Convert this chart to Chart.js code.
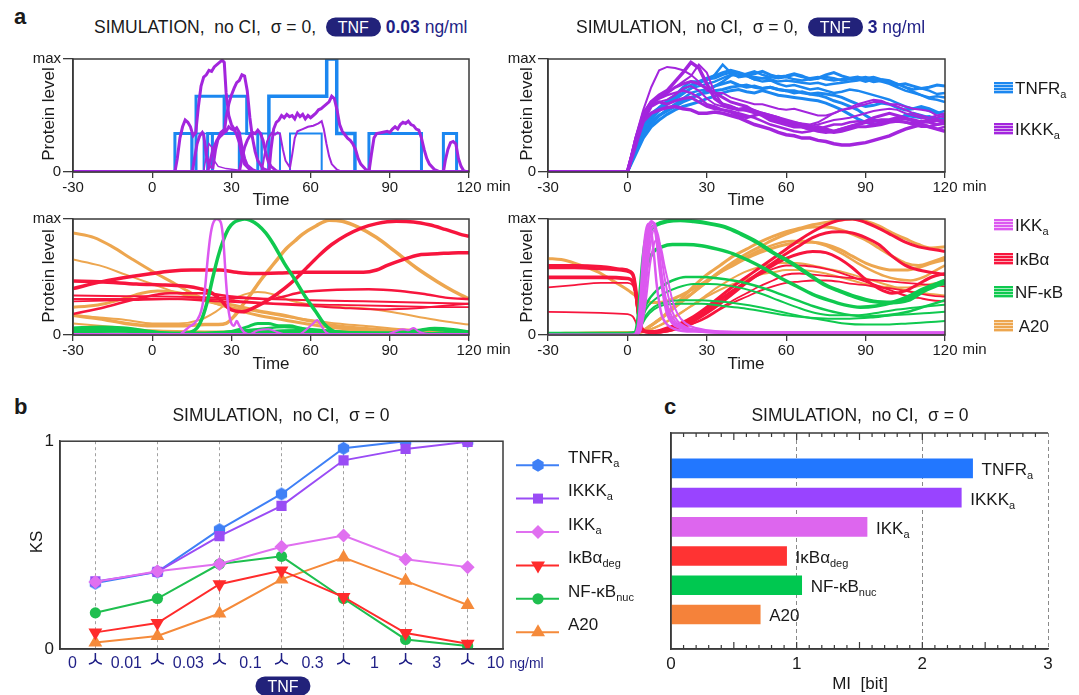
<!DOCTYPE html>
<html>
<head>
<meta charset="utf-8">
<title>TNF signalling – simulation</title>
<script src="https://cdn.jsdelivr.net/npm/chart.js@4.4.1/dist/chart.umd.min.js"></script>
<style>
  html, body { margin: 0; padding: 0; background: #fff; }
  #page { position: relative; width: 1079px; height: 695px; overflow: hidden;
          font-family: "Liberation Sans", Arial, sans-serif; color: #1a1a1a; }
  #page canvas { position: absolute; }
  .t { position: absolute; white-space: pre; line-height: 1; }
  .mid { transform: translate(-50%, -50%); }
  .lft { transform: translateY(-50%); }
  .rot { transform: translate(-50%, -50%) rotate(-90deg); }
  .letter { font-weight: bold; font-size: 22px; }
  .title { font-size: 17.5px; }
  .axis { font-size: 17px; }
  .pill { display: inline-block; background: #22227a; color: #fff; border-radius: 10px;
          padding: 2px 12px 1px; font-size: 16px; }
  .navy { color: #1f1f86; }
  .leg { font-size: 17px; }
  .sw { position: absolute; width: 19px; height: 12px; transform: translateY(-50%); }
  sub { font-size: 11px; vertical-align: -4px; line-height: 0; }
</style>
</head>
<body>
<div id="page">
  <canvas id="cTL"></canvas>
  <canvas id="cTR"></canvas>
  <canvas id="cBL"></canvas>
  <canvas id="cBR"></canvas>
  <canvas id="cKS"></canvas>
  <canvas id="cMI"></canvas>

  <!-- panel a -->
  <div class="t letter lft" style="left:14px;top:17px">a</div>
  <div class="t title lft" style="left:94px;top:27px">SIMULATION,  no CI,  σ = 0,  <span class="pill">TNF</span> <b class="navy">0.03</b><span class="navy"> ng/ml</span></div>
  <div class="t title lft" style="left:576px;top:27px">SIMULATION,  no CI,  σ = 0,  <span class="pill">TNF</span> <b class="navy">3</b><span class="navy"> ng/ml</span></div>
  <div class="t axis rot" style="left:48px;top:114px">Protein level</div>
  <div class="t axis rot" style="left:48px;top:276px">Protein level</div>
  <div class="t axis rot" style="left:526px;top:114px">Protein level</div>
  <div class="t axis rot" style="left:526px;top:276px">Protein level</div>
  <div class="t axis mid" style="left:271px;top:199px">Time</div>
  <div class="t axis mid" style="left:746px;top:199px">Time</div>
  <div class="t axis mid" style="left:271px;top:363px">Time</div>
  <div class="t axis mid" style="left:746px;top:363px">Time</div>

  <div class="sw" style="left:994px;top:88px;background:repeating-linear-gradient(180deg,#1b87f0 0 2px,#a9d2fa 2px 3px)"></div>
  <div class="t leg lft" style="left:1015px;top:88px">TNFR<sub>a</sub></div>
  <div class="sw" style="left:994px;top:129px;background:repeating-linear-gradient(180deg,#a325dd 0 2px,#dcb0f2 2px 3px)"></div>
  <div class="t leg lft" style="left:1015px;top:129px">IKKK<sub>a</sub></div>
  <div class="sw" style="left:994px;top:225px;background:repeating-linear-gradient(180deg,#dc58f0 0 2px,#f3c4fa 2px 3px)"></div>
  <div class="t leg lft" style="left:1015px;top:225px">IKK<sub>a</sub></div>
  <div class="sw" style="left:994px;top:259px;background:repeating-linear-gradient(180deg,#f7153d 0 2px,#fca9b7 2px 3px)"></div>
  <div class="t leg lft" style="left:1015px;top:259px">IκBα</div>
  <div class="sw" style="left:994px;top:292px;background:repeating-linear-gradient(180deg,#0fc94f 0 2px,#a4ecbd 2px 3px)"></div>
  <div class="t leg lft" style="left:1015px;top:292px">NF-κB</div>
  <div class="sw" style="left:994px;top:326px;background:repeating-linear-gradient(180deg,#eda64f 0 2px,#f8dcb8 2px 3px)"></div>
  <div class="t leg lft" style="left:1015px;top:326px"> A20</div>

  <!-- panel b -->
  <div class="t letter lft" style="left:14px;top:407px">b</div>
  <div class="t title mid" style="left:281px;top:416px">SIMULATION,  no CI,  σ = 0</div>
  <div class="t axis rot" style="left:36px;top:542px">KS</div>
  <div class="t mid" style="left:283px;top:686px"><span class="pill">TNF</span></div>
  <div class="t leg lft" style="left:568px;top:457px">TNFR<sub>a</sub></div>
  <div class="t leg lft" style="left:568px;top:490px">IKKK<sub>a</sub></div>
  <div class="t leg lft" style="left:568px;top:524px">IKK<sub>a</sub></div>
  <div class="t leg lft" style="left:568px;top:557px">IκBα<sub>deg</sub></div>
  <div class="t leg lft" style="left:568px;top:591px">NF-κB<sub>nuc</sub></div>
  <div class="t leg lft" style="left:568px;top:624px">A20</div>

  <!-- panel c -->
  <div class="t letter lft" style="left:664px;top:407px">c</div>
  <div class="t title mid" style="left:860px;top:416px">SIMULATION,  no CI,  σ = 0</div>
  <div class="t axis mid" style="left:860px;top:683px">MI  [bit]</div>
</div>

<script>
// ---------------- data ----------------
const timeTicks = [-30, 0, 30, 60, 90, 120];
const timesHigh = [0,3,6,9,12,15,18,21,24,27,30,33,36,39,42,45,48,51,54,57,60,63,66,69,72,75,78,81,84,87,90,93,96,99,102,105,108,111,114,117,120];

// TNF 0.03 ng/ml: receptor activity switches between levels at these times [t, level]
const tnfrLowSteps = [
  [[8.6,0.34],[15,0],[16.6,0.67],[27.3,0.34],[33,0]],
  [[15.2,0.34],[19.5,0],[23,0.34],[33,0]],
  [[21,0.34],[27.3,0.67],[35.8,0.34],[40,0]],
  [[19.5,0.34],[22.5,0]],
  [[33,0.34],[41.4,0]],
  [[41.5,0.34],[48.4,0],[52.2,0.34],[64.2,0]],
  [[44.2,0.67],[66.1,1],[69.9,0.34],[76.8,0]],
  [[82.1,0.34],[102,0],[110.3,0.34],[115.3,0]]
];
const ikkkLowTraces = [
  [[-30,0],[8.6,0],[9.5,0.12],[10.5,0.3],[11.5,0.4],[12.5,0.46],[13.5,0.44],[14.5,0.4],[15.5,0.32],[16.5,0.35],[17.5,0.58],[18.5,0.76],[19.5,0.84],[20.5,0.86],[21.5,0.9],[22.5,0.89],[23.5,0.93],[24.5,0.95],[25.5,0.97],[26.5,0.99],[27.3,0.97],[28,0.7],[29,0.5],[30,0.42],[31,0.38],[32,0.33],[33,0.26],[34,0.14],[35,0.07],[37,0.02],[40,0],[120,0]],
  [[-30,0],[15.2,0],[16,0.12],[17,0.25],[18,0.32],[19,0.35],[19.5,0.33],[20.5,0.15],[21.5,0.05],[23,0.04],[24,0.2],[25,0.3],[26,0.35],[27,0.37],[28,0.36],[29,0.4],[30,0.38],[31,0.37],[32,0.39],[33,0.35],[34,0.22],[35,0.12],[36,0.06],[38,0.02],[40,0],[120,0]],
  [[-30,0],[21,0],[22,0.1],[23,0.2],[24.5,0.28],[26,0.32],[27.3,0.35],[28,0.48],[29,0.6],[30,0.68],[31,0.74],[32,0.79],[33,0.81],[34,0.86],[35,0.85],[36,0.72],[37,0.48],[38,0.3],[39,0.18],[40,0.1],[42,0.03],[45,0],[120,0]],
  [[-30,0],[19.5,0],[20.5,0.15],[21.5,0.25],[22.5,0.22],[23.5,0.1],[25,0.05],[28,0.03],[33,0.015],[40,0.005],[46,0],[120,0]],
  [[-30,0],[33,0],[34,0.12],[35,0.22],[36,0.28],[37,0.32],[38,0.35],[39,0.34],[40,0.37],[41,0.34],[42,0.28],[43,0.17],[44,0.09],[45,0.05],[47,0.01],[49,0],[120,0]],
  [[-30,0],[41.5,0],[42.5,0.15],[43.5,0.27],[44.5,0.32],[45.5,0.35],[46.5,0.33],[47.5,0.35],[48.4,0.34],[49.5,0.2],[50.5,0.1],[52.2,0.04],[53,0.15],[54,0.3],[55,0.36],[57,0.38],[59,0.4],[61,0.41],[63,0.43],[64.2,0.45],[65,0.38],[66,0.25],[67,0.14],[68,0.07],[70,0.02],[72,0],[120,0]],
  [[-30,0],[44.2,0],[45,0.2],[46,0.38],[47,0.44],[48,0.46],[49,0.5],[50,0.48],[51,0.51],[52,0.49],[53,0.5],[54,0.47],[55,0.52],[56,0.49],[57,0.51],[58,0.47],[59,0.5],[60,0.48],[61,0.5],[62,0.52],[63,0.55],[64,0.56],[65,0.58],[66,0.6],[67,0.62],[68,0.67],[69,0.65],[70,0.55],[71,0.42],[72,0.36],[73,0.33],[74,0.3],[75,0.28],[76,0.25],[77,0.2],[78,0.12],[79,0.07],[81,0.02],[83,0],[120,0]],
  [[-30,0],[82.1,0],[83,0.15],[84,0.3],[85,0.34],[87,0.35],[89,0.36],[90,0.35],[91,0.38],[92,0.4],[93,0.38],[94,0.42],[95,0.44],[96,0.43],[97,0.45],[98,0.42],[99,0.41],[100,0.38],[101,0.37],[102,0.3],[103,0.2],[104,0.12],[105,0.07],[107,0.02],[109,0],[110.3,0],[111,0.1],[112,0.2],[113,0.26],[114,0.27],[115,0.25],[116,0.12],[117,0.05],[118,0.01],[120,0]]
];

// TNF 3 ng/ml, sampled at timesHigh
const tnfrHighValues = [
  [0,0.22,0.4,0.5,0.57,0.63,0.68,0.73,0.77,0.8,0.83,0.85,0.88,0.9,0.88,0.86,0.87,0.89,0.86,0.84,0.85,0.87,0.85,0.82,0.83,0.86,0.88,0.85,0.83,0.84,0.82,0.8,0.81,0.79,0.77,0.78,0.76,0.74,0.75,0.77,0.76],
  [0,0.2,0.37,0.46,0.54,0.6,0.66,0.7,0.74,0.79,0.81,0.86,0.95,0.88,0.84,0.85,0.82,0.8,0.81,0.78,0.76,0.77,0.75,0.73,0.74,0.72,0.7,0.71,0.73,0.72,0.7,0.68,0.66,0.64,0.61,0.58,0.56,0.57,0.54,0.52,0.54],
  [0,0.18,0.33,0.42,0.5,0.55,0.6,0.63,0.66,0.68,0.72,0.76,0.78,0.8,0.77,0.75,0.76,0.74,0.75,0.73,0.72,0.7,0.71,0.69,0.68,0.66,0.63,0.61,0.58,0.55,0.5,0.46,0.44,0.45,0.47,0.5,0.52,0.5,0.48,0.46,0.47],
  [0,0.24,0.42,0.52,0.57,0.6,0.64,0.69,0.74,0.76,0.78,0.8,0.83,0.86,0.85,0.87,0.89,0.86,0.84,0.85,0.84,0.86,0.84,0.83,0.84,0.82,0.81,0.82,0.83,0.82,0.8,0.82,0.81,0.79,0.78,0.75,0.71,0.68,0.65,0.64,0.62],
  [0,0.15,0.3,0.4,0.46,0.51,0.55,0.58,0.6,0.62,0.65,0.67,0.7,0.72,0.73,0.71,0.7,0.72,0.7,0.68,0.67,0.66,0.65,0.64,0.63,0.61,0.58,0.55,0.51,0.47,0.44,0.42,0.43,0.45,0.47,0.5,0.49,0.48,0.49,0.47,0.45],
  [0,0.2,0.36,0.44,0.5,0.55,0.6,0.65,0.7,0.72,0.73,0.76,0.8,0.85,0.88,0.85,0.82,0.83,0.82,0.8,0.81,0.8,0.79,0.78,0.79,0.77,0.78,0.79,0.8,0.81,0.83,0.84,0.82,0.81,0.78,0.75,0.73,0.74,0.72,0.69,0.7],
  [0,0.18,0.34,0.44,0.5,0.54,0.58,0.62,0.65,0.69,0.7,0.72,0.73,0.75,0.76,0.77,0.75,0.74,0.75,0.73,0.72,0.72,0.7,0.69,0.7,0.69,0.68,0.66,0.63,0.6,0.58,0.59,0.61,0.6,0.57,0.55,0.56,0.58,0.56,0.53,0.5],
  [0,0.22,0.4,0.48,0.55,0.61,0.68,0.75,0.8,0.8,0.82,0.83,0.86,0.88,0.87,0.86,0.84,0.83,0.84,0.83,0.84,0.82,0.81,0.82,0.83,0.84,0.83,0.81,0.82,0.83,0.84,0.82,0.8,0.78,0.75,0.72,0.7,0.68,0.66,0.67,0.66]
];
const ikkkHighValues = [
  [0,0.3,0.55,0.75,0.9,0.93,0.92,0.9,0.86,0.8,0.72,0.7,0.7,0.66,0.64,0.62,0.6,0.6,0.58,0.56,0.55,0.56,0.54,0.52,0.5,0.5,0.52,0.55,0.56,0.58,0.6,0.62,0.62,0.6,0.6,0.58,0.56,0.55,0.54,0.5,0.48],
  [0,0.25,0.5,0.62,0.68,0.72,0.8,0.88,0.97,0.92,0.78,0.65,0.6,0.58,0.55,0.56,0.53,0.5,0.46,0.44,0.42,0.4,0.4,0.38,0.4,0.38,0.36,0.38,0.4,0.42,0.44,0.45,0.46,0.46,0.48,0.47,0.46,0.44,0.45,0.46,0.45],
  [0,0.25,0.48,0.6,0.66,0.7,0.75,0.8,0.85,0.95,0.88,0.7,0.6,0.58,0.56,0.57,0.55,0.52,0.5,0.48,0.45,0.44,0.43,0.42,0.44,0.48,0.52,0.55,0.57,0.6,0.62,0.64,0.63,0.6,0.58,0.55,0.52,0.5,0.48,0.5,0.52],
  [0,0.28,0.52,0.62,0.66,0.7,0.75,0.78,0.8,0.78,0.74,0.7,0.66,0.62,0.6,0.58,0.54,0.52,0.5,0.48,0.44,0.42,0.4,0.38,0.36,0.35,0.36,0.38,0.4,0.42,0.45,0.48,0.5,0.52,0.5,0.48,0.45,0.42,0.4,0.42,0.44],
  [0,0.25,0.45,0.52,0.55,0.57,0.58,0.56,0.55,0.52,0.52,0.53,0.52,0.5,0.48,0.45,0.42,0.4,0.38,0.35,0.33,0.32,0.3,0.3,0.28,0.27,0.25,0.24,0.24,0.25,0.26,0.28,0.3,0.32,0.35,0.38,0.4,0.42,0.4,0.38,0.36],
  [0,0.26,0.5,0.6,0.65,0.68,0.7,0.72,0.7,0.66,0.6,0.58,0.55,0.54,0.52,0.5,0.48,0.45,0.42,0.4,0.38,0.36,0.35,0.36,0.38,0.4,0.42,0.42,0.44,0.45,0.44,0.42,0.44,0.45,0.46,0.44,0.42,0.4,0.4,0.38,0.4],
  [0,0.3,0.52,0.6,0.62,0.64,0.68,0.74,0.76,0.72,0.65,0.6,0.58,0.56,0.55,0.54,0.52,0.5,0.48,0.46,0.44,0.42,0.4,0.41,0.42,0.44,0.46,0.47,0.48,0.5,0.52,0.54,0.55,0.56,0.55,0.52,0.5,0.48,0.46,0.48,0.5],
  [0,0.22,0.45,0.58,0.62,0.6,0.63,0.65,0.66,0.62,0.58,0.56,0.55,0.53,0.5,0.48,0.5,0.52,0.5,0.48,0.46,0.44,0.42,0.4,0.38,0.36,0.35,0.36,0.38,0.4,0.4,0.41,0.42,0.44,0.45,0.44,0.43,0.45,0.44,0.42,0.43]
];

// downstream species, TNF 0.03 ng/ml  [t, level]
const ikkLowTraces = [
  [[-30,0],[10,0],[12,0.03],[14,0.07],[16,0.1],[18,0.17],[19,0.25],[20,0.4],[21,0.65],[22,0.85],[23,0.96],[24.5,1],[26,0.97],[27,0.8],[28,0.45],[29,0.2],[30,0.1],[31,0.08],[32,0.12],[33,0.08],[35,0.02],[38,0],[120,0]],
  [[-30,0],[55,0],[58,0.04],[61,0.1],[62.5,0.13],[64,0.08],[66,0.02],[70,0],[120,0]],
  [[-30,0],[88,0],[92,0.03],[95,0.05],[97,0.04],[99,0.06],[101,0.03],[104,0.01],[106,0],[120,0]],
  [[-30,0],[36,0],[40,0.04],[44,0.05],[48,0.02],[52,0],[120,0]],
  [[-30,0.005],[120,0.005]]
];
const nfkbLowTraces = [
  [[-30,0.04],[-20,0.05],[-10,0.04],[0,0.02],[10,0.01],[14,0.02],[17,0.06],[19,0.15],[21,0.3],[23,0.5],[25,0.68],[27,0.82],[29,0.92],[31,0.97],[33,0.99],[35,1],[37,0.99],[40,0.95],[43,0.88],[46,0.78],[50,0.62],[54,0.48],[58,0.33],[62,0.2],[65,0.1],[68,0.04],[72,0.01],[120,0]],
  [[-30,0.06],[-20,0.07],[-10,0.06],[0,0.03],[10,0.01],[20,0.01],[30,0.03],[36,0.07],[40,0.1],[44,0.1],[48,0.08],[52,0.08],[56,0.06],[60,0.04],[70,0.02],[80,0.01],[90,0.01],[100,0.03],[105,0.05],[110,0.04],[120,0.02]],
  [[-30,0.03],[-10,0.03],[0,0.02],[20,0.02],[30,0.03],[40,0.05],[50,0.07],[55,0.06],[65,0.04],[75,0.02],[90,0.02],[100,0.04],[107,0.06],[114,0.05],[120,0.03]],
  [[-30,0.02],[0,0.01],[30,0.01],[42,0.03],[55,0.04],[70,0.03],[90,0.01],[120,0.01]],
  [[-30,0.05],[-15,0.04],[0,0.02],[15,0.01],[35,0.02],[60,0.03],[80,0.02],[120,0.01]]
];
const ikbaLowTraces = [
  [[-30,0.4],[-19,0.46],[-6,0.51],[6.6,0.55],[15,0.56],[25.6,0.56],[32,0.54],[38,0.53],[48,0.535],[57,0.54],[70,0.54],[80,0.54],[85,0.56],[89,0.6],[95,0.65],[101,0.69],[108,0.7],[116,0.71],[120,0.71]],
  [[-30,0.465],[-20,0.46],[-6,0.44],[5,0.43],[13,0.42],[18,0.4],[22,0.37],[26,0.3],[29,0.23],[34,0.2],[39,0.24],[44.5,0.31],[50,0.4],[54.6,0.49],[59,0.59],[63.4,0.69],[68,0.78],[73.5,0.86],[79,0.92],[85,0.96],[92.5,0.98],[99,0.975],[105,0.95],[111,0.91],[116.5,0.87],[120,0.85]],
  [[-30,0.18],[-18,0.24],[-6,0.31],[6.6,0.36],[19,0.36],[31,0.33],[44,0.31],[57,0.37],[70,0.39],[82,0.395],[94,0.38],[104,0.35],[112,0.32],[120,0.31]],
  [[-30,0.34],[-10,0.335],[10,0.33],[30,0.32],[44,0.31],[60,0.3],[80,0.29],[100,0.28],[120,0.27]],
  [[-30,0.31],[-10,0.31],[6,0.31],[25,0.29],[44,0.27],[60,0.25],[75,0.23],[88,0.22],[100,0.23],[110,0.25],[120,0.27]],
  [[-30,0.29],[-10,0.3],[10,0.31],[25,0.31],[35,0.29],[50,0.27],[70,0.26],[90,0.25],[110,0.24],[120,0.24]]
];
const a20LowTraces = [
  [[-30,0.88],[-22,0.84],[-15,0.76],[-8,0.66],[0,0.55],[8,0.45],[15,0.36],[22,0.29],[30,0.23],[40,0.17],[50,0.13],[60,0.09],[70,0.06],[80,0.04],[95,0.02],[120,0.01]],
  [[-30,0.65],[-20,0.6],[-10,0.52],[0,0.44],[10,0.36],[20,0.29],[30,0.24],[40,0.2],[50,0.16],[60,0.13],[70,0.1],[80,0.08],[95,0.05],[120,0.03]],
  [[-30,0.17],[-20,0.14],[-10,0.1],[0,0.08],[10,0.08],[20,0.09],[25,0.09],[28,0.1],[31,0.16],[34,0.25],[37,0.34],[41,0.47],[44.5,0.57],[48,0.67],[51,0.75],[54,0.81],[57,0.87],[62,0.94],[67,0.99],[72,0.98],[78,0.93],[85,0.84],[92,0.72],[100,0.58],[108,0.46],[114,0.38],[120,0.31]],
  [[-30,0.24],[-24,0.25],[-18,0.27],[-10,0.32],[-4,0.36],[2,0.38],[8,0.37],[15,0.34],[22,0.3],[30,0.26],[40,0.21],[50,0.17],[60,0.12],[70,0.08],[85,0.05],[100,0.03],[120,0.02]],
  [[-30,0.17],[-20,0.15],[-10,0.13],[0,0.1],[10,0.1],[18,0.13],[24,0.2],[30,0.3],[35,0.35],[40,0.37],[46,0.35],[52,0.3],[58,0.27],[65,0.25],[72,0.24],[80,0.23],[90,0.2],[100,0.16],[110,0.12],[120,0.09]],
  [[-30,0.1],[-10,0.06],[0,0.04],[20,0.03],[40,0.03],[60,0.04],[80,0.03],[120,0.02]]
];

// downstream species, TNF 3 ng/ml  [t, level]
const ikkHighTraces = [
  [[-30,0],[2,0],[4,0.05],[5,0.2],[6,0.5],[7,0.78],[8,0.93],[9,0.98],[10,0.95],[11,0.82],[12,0.6],[13,0.42],[14,0.28],[15,0.18],[17,0.1],[20,0.06],[25,0.04],[30,0.025],[40,0.02],[120,0.02]],
  [[-30,0],[3,0],[5,0.08],[6,0.3],[7,0.6],[8,0.85],[9.5,0.97],[10.5,0.95],[11.5,0.8],[12.5,0.58],[13.5,0.4],[15,0.22],[17,0.12],[20,0.07],[25,0.04],[35,0.02],[120,0.02]],
  [[-30,0],[3,0],[5,0.05],[6.5,0.3],[8,0.65],[9,0.82],[10,0.9],[11,0.9],[12,0.82],[13,0.66],[14,0.5],[15.5,0.33],[17,0.2],[19,0.12],[22,0.07],[28,0.04],[40,0.025],[120,0.02]],
  [[-30,0],[3,0],[5,0.04],[7,0.3],[8.5,0.6],[10,0.78],[11,0.82],[12,0.8],[13,0.72],[14,0.6],[15.5,0.45],[17,0.3],[19,0.18],[22,0.1],[26,0.06],[35,0.03],[120,0.02]],
  [[-30,0],[2,0],[4,0.08],[5,0.35],[6,0.7],[7,0.9],[8,0.96],[9,0.9],[10,0.7],[11,0.45],[12,0.28],[13,0.17],[15,0.09],[18,0.05],[25,0.03],[120,0.015]],
  [[-30,0],[3,0],[5,0.06],[6.5,0.4],[8,0.75],[9,0.9],[10,0.94],[11,0.88],[12,0.72],[13,0.52],[14.5,0.32],[16,0.2],[18,0.12],[21,0.07],[27,0.04],[40,0.02],[120,0.02]]
];
const nfkbHighTraces = [
  [[-30,0.01],[0,0.01],[3,0.02],[4,0.12],[5,0.4],[6,0.66],[7,0.82],[8.5,0.9],[11,0.95],[15,0.98],[20,0.99],[25,0.98],[31,0.96],[37,0.93],[43,0.87],[49,0.8],[55,0.71],[62,0.62],[68,0.53],[74,0.44],[80,0.38],[86,0.33],[93,0.29],[100,0.28],[106,0.3],[112,0.38],[116,0.42],[120,0.45]],
  [[-30,0.01],[0,0.01],[3,0.02],[4,0.1],[5,0.3],[6.5,0.52],[8,0.64],[10,0.72],[13,0.76],[17,0.78],[22,0.78],[28,0.77],[34,0.74],[40,0.7],[46,0.64],[52,0.57],[58,0.49],[64,0.42],[70,0.35],[76,0.3],[82,0.26],[88,0.24],[94,0.25],[100,0.28],[106,0.33],[112,0.4],[120,0.47]],
  [[-30,0.01],[0,0.01],[3,0.02],[4.5,0.08],[6,0.2],[8,0.3],[10,0.36],[13,0.42],[17,0.47],[22,0.5],[28,0.5],[34,0.49],[40,0.47],[46,0.44],[52,0.4],[58,0.35],[64,0.3],[70,0.25],[76,0.21],[82,0.18],[90,0.16],[98,0.17],[106,0.2],[113,0.25],[120,0.3]],
  [[-30,0.01],[0,0.01],[3,0.02],[5,0.1],[7,0.22],[10,0.3],[14,0.36],[19,0.41],[25,0.44],[31,0.44],[37,0.43],[44,0.4],[50,0.36],[57,0.3],[64,0.24],[71,0.19],[78,0.17],[86,0.17],[94,0.19],[102,0.22],[110,0.24],[120,0.26]],
  [[-30,0.01],[0,0.01],[3,0.02],[5,0.08],[7,0.17],[10,0.24],[14,0.28],[20,0.3],[27,0.3],[34,0.29],[42,0.27],[50,0.24],[58,0.2],[66,0.16],[74,0.13],[82,0.1],[90,0.09],[98,0.09],[106,0.1],[113,0.11],[120,0.12]],
  [[-30,0.01],[0,0.01],[3,0.02],[5,0.07],[7,0.15],[10,0.22],[14,0.26],[20,0.27],[28,0.27],[36,0.25],[44,0.23],[52,0.2],[60,0.17],[68,0.15],[76,0.14],[84,0.14],[92,0.15],[100,0.17],[108,0.18],[114,0.19],[120,0.2]]
];
const ikbaHighTraces = [
  [[-30,0.6],[-20,0.6],[-10,0.59],[-3,0.57],[1,0.55],[2.5,0.5],[3.5,0.35],[4.5,0.15],[5.5,0.06],[7,0.03],[10,0.03],[15,0.06],[20,0.1],[25,0.16],[30,0.24],[35,0.33],[40,0.42],[45,0.5],[50,0.58],[55,0.66],[60,0.74],[65,0.82],[70,0.89],[75,0.95],[80,0.99],[85,1],[90,0.97],[95,0.92],[100,0.86],[105,0.8],[110,0.76],[115,0.74],[120,0.72]],
  [[-30,0.58],[-20,0.58],[-10,0.57],[-3,0.56],[1,0.54],[2.5,0.48],[3.5,0.3],[4.5,0.12],[6,0.04],[10,0.03],[15,0.05],[20,0.09],[25,0.14],[30,0.21],[35,0.3],[40,0.38],[45,0.46],[50,0.54],[55,0.62],[60,0.7],[65,0.77],[70,0.84],[75,0.88],[80,0.89],[85,0.88],[90,0.84],[95,0.78],[100,0.68],[105,0.6],[110,0.56],[115,0.54],[120,0.52]],
  [[-30,0.5],[-10,0.5],[0,0.49],[2,0.46],[3,0.38],[4,0.2],[5,0.08],[6.5,0.03],[10,0.02],[15,0.04],[20,0.07],[25,0.12],[30,0.19],[35,0.27],[40,0.36],[45,0.45],[50,0.53],[55,0.6],[60,0.66],[65,0.7],[70,0.72],[75,0.71],[80,0.66],[85,0.58],[90,0.48],[95,0.4],[100,0.36],[105,0.38],[110,0.44],[115,0.5],[120,0.53]],
  [[-30,0.49],[-10,0.49],[0,0.48],[2,0.45],[3,0.36],[4,0.18],[5,0.07],[7,0.03],[10,0.03],[15,0.05],[20,0.09],[25,0.15],[30,0.23],[35,0.31],[40,0.39],[45,0.46],[50,0.52],[55,0.57],[60,0.6],[65,0.6],[70,0.59],[75,0.57],[80,0.54],[85,0.5],[90,0.46],[95,0.42],[100,0.38],[105,0.34],[110,0.32],[115,0.3],[120,0.29]],
  [[-30,0.41],[-20,0.43],[-10,0.45],[0,0.45],[2,0.43],[3,0.34],[4,0.17],[5,0.06],[7,0.03],[10,0.02],[15,0.03],[20,0.06],[25,0.1],[30,0.16],[35,0.23],[40,0.3],[45,0.36],[50,0.42],[55,0.47],[60,0.52],[65,0.53],[70,0.52],[75,0.51],[80,0.5],[85,0.49],[90,0.48],[95,0.47],[100,0.46],[105,0.45],[110,0.44],[115,0.43],[120,0.42]],
  [[-30,0.2],[-10,0.19],[0,0.18],[2,0.16],[3,0.12],[4,0.06],[5,0.03],[10,0.02],[15,0.03],[20,0.06],[25,0.1],[30,0.15],[35,0.22],[40,0.28],[45,0.33],[50,0.38],[55,0.42],[60,0.45],[65,0.46],[70,0.47],[75,0.47],[80,0.46],[85,0.44],[90,0.43],[95,0.41],[100,0.4],[105,0.38],[110,0.36],[115,0.34],[120,0.33]]
];
const a20HighTraces = [
  [[-30,0.66],[-25,0.65],[-20,0.62],[-15,0.58],[-10,0.53],[-5,0.46],[0,0.39],[3,0.34],[6,0.3],[9,0.28],[12,0.28],[16,0.3],[20,0.34],[25,0.4],[30,0.47],[35,0.54],[40,0.6],[45,0.66],[50,0.71],[55,0.75],[60,0.78],[65,0.8],[70,0.8],[75,0.78],[80,0.74],[85,0.68],[90,0.62],[95,0.58],[100,0.56],[105,0.56],[110,0.58],[115,0.62],[120,0.65]],
  [[-30,0.01],[-10,0.02],[0,0.02],[4,0.02],[7,0.05],[10,0.1],[14,0.17],[18,0.26],[22,0.35],[26,0.44],[30,0.52],[35,0.6],[40,0.68],[45,0.74],[50,0.8],[55,0.85],[60,0.89],[65,0.92],[70,0.95],[75,0.97],[80,0.99],[85,1],[90,0.98],[95,0.94],[100,0.88],[105,0.83],[110,0.78],[115,0.75],[120,0.76]],
  [[-30,0.01],[0,0.02],[5,0.03],[8,0.07],[12,0.13],[16,0.2],[20,0.28],[25,0.37],[30,0.46],[35,0.55],[40,0.63],[45,0.7],[50,0.76],[55,0.82],[60,0.87],[65,0.91],[70,0.93],[75,0.93],[80,0.91],[85,0.87],[90,0.82],[95,0.75],[100,0.68],[105,0.62],[110,0.6],[115,0.63],[120,0.67]],
  [[-30,0.01],[0,0.02],[5,0.03],[9,0.08],[13,0.15],[17,0.22],[22,0.31],[27,0.4],[32,0.49],[37,0.57],[42,0.64],[47,0.7],[52,0.75],[57,0.79],[62,0.81],[67,0.81],[72,0.79],[77,0.75],[82,0.69],[87,0.62],[92,0.56],[97,0.51],[102,0.48],[107,0.47],[112,0.5],[116,0.55],[120,0.6]],
  [[-30,0.01],[0,0.02],[5,0.02],[9,0.05],[14,0.1],[19,0.17],[24,0.25],[29,0.33],[34,0.41],[39,0.48],[44,0.54],[49,0.58],[54,0.61],[59,0.62],[64,0.62],[70,0.6],[76,0.57],[82,0.54],[88,0.5],[94,0.46],[100,0.42],[106,0.38],[112,0.36],[120,0.34]],
  [[-30,0.01],[0,0.02],[6,0.03],[10,0.06],[15,0.12],[20,0.19],[25,0.26],[30,0.33],[35,0.39],[40,0.44],[45,0.48],[50,0.52],[55,0.54],[60,0.56],[65,0.56],[70,0.55],[75,0.53],[80,0.5],[85,0.47],[90,0.44],[95,0.42],[100,0.41],[106,0.41],[112,0.43],[120,0.46]]
];

// panel b: KS between neighbouring doses
const doseLabels = ['0', '0.01', '0.03', '0.1', '0.3', '1', '3', '10'];
const ksTNFR = [0.317, 0.371, 0.574, 0.746, 0.966, 1.0, 1.0];
const ksIKKK = [0.325, 0.371, 0.543, 0.689, 0.908, 0.963, 0.997];
const ksIKK = [0.323, 0.374, 0.409, 0.492, 0.546, 0.432, 0.394];
const ksIkBa = [0.08, 0.125, 0.312, 0.378, 0.25, 0.077, 0.025];
const ksNFkB = [0.174, 0.243, 0.409, 0.446, 0.243, 0.046, 0.015];
const ksA20 = [0.031, 0.063, 0.171, 0.335, 0.44, 0.328, 0.212];

// panel c: mutual information
const miNames = [['TNFR', 'a'], ['IKKK', 'a'], ['IKK', 'a'], ['IκBα', 'deg'], ['NF-κB', 'nuc'], ['A20', '']];
const miValues = [2.40, 2.31, 1.56, 0.92, 1.04, 0.71];

// ---------------- helpers ----------------
const INK = '#1a1a1a', NAVY = '#1f1f86', FRAME = '#3a3a3a';
const FONT = '"Liberation Sans", Arial, sans-serif';
const page = document.getElementById('page');

function place(cv, fx, fy, fw, fh, pad) {
  const w = fw + pad.l + pad.r, h = fh + pad.t + pad.b;
  cv.width = w; cv.height = h;
  cv.style.left = (fx - pad.l) + 'px';
  cv.style.top = (fy - pad.t) + 'px';
  cv.style.width = w + 'px';
  cv.style.height = h + 'px';
}

function stepsToTrace(steps) {
  const pts = [[-30, 0]];
  let level = 0;
  steps.forEach(([t, v]) => { pts.push([t, level]); pts.push([t, v]); level = v; });
  pts.push([120, level]);
  return pts;
}

function sampled(vals) {
  return [[-30, 0]].concat(vals.map((v, i) => [timesHigh[i], v]));
}

function traces(list, color, widths, smooth) {
  return list.map((pts, i) => ({
    data: pts.map(p => ({ x: p[0], y: p[1] })),
    borderColor: color,
    borderWidth: widths[i % widths.length],
    pointRadius: 0,
    fill: false,
    tension: 0,
    cubicInterpolationMode: smooth ? 'monotone' : 'default'
  }));
}

const framePlugin = {
  id: 'frame',
  afterDraw(chart) {
    const a = chart.chartArea, ctx = chart.ctx;
    ctx.save();
    ctx.strokeStyle = FRAME;
    ctx.lineWidth = 1.5;
    ctx.strokeRect(a.left, a.top, a.right - a.left, a.bottom - a.top);
    ctx.restore();
  }
};

// "min" after the last time tick
const minPlugin = {
  id: 'minLabel',
  afterDraw(chart) {
    const ctx = chart.ctx, xs = chart.scales.x;
    const px = xs.getPixelForValue(120);
    ctx.save();
    ctx.font = '15px ' + FONT;
    ctx.fillStyle = INK;
    ctx.textBaseline = 'middle';
    const w = ctx.measureText('120').width;
    ctx.fillText('min', px + w / 2 + 5, chart.chartArea.bottom + 15);
    ctx.restore();
  }
};

function timePlot(id, fx, fy, fw, fh, datasets) {
  const pad = { l: 48, t: 8, r: 48, b: 26 };
  const cv = document.getElementById(id);
  place(cv, fx, fy, fw, fh, pad);
  return new Chart(cv, {
    type: 'line',
    data: { datasets },
    options: {
      responsive: false, animation: false, events: [],
      layout: { padding: { left: 0, top: pad.t, right: pad.r, bottom: 0 } },
      plugins: { legend: { display: false }, tooltip: { enabled: false } },
      scales: {
        x: {
          type: 'linear', min: -30, max: 120,
          afterBuildTicks: s => { s.ticks = timeTicks.map(v => ({ value: v })); },
          afterFit: s => { s.height = pad.b; },
          grid: { drawOnChartArea: false, tickLength: 6, color: FRAME, lineWidth: 1.3 },
          border: { display: true, color: FRAME, width: 1.5 },
          ticks: { color: INK, font: { family: FONT, size: 15 }, padding: 1, maxRotation: 0, autoSkip: false }
        },
        y: {
          min: 0, max: 1,
          afterBuildTicks: s => { s.ticks = [{ value: 0 }, { value: 1 }]; },
          afterFit: s => { s.width = pad.l; },
          grid: { drawOnChartArea: false, tickLength: 10, color: FRAME, lineWidth: 1.3 },
          border: { display: true, color: FRAME, width: 1.5 },
          ticks: { color: INK, font: { family: FONT, size: 15 }, padding: 2, callback: v => (v === 1 ? 'max' : '0') }
        }
      }
    },
    plugins: [framePlugin, minPlugin]
  });
}

// ---------------- panel a ----------------
const C_TNFR = '#1b87f0', C_IKKK = '#a325dd', C_IKK = '#dc58f0';
const C_IKBA = '#f7153d', C_NFKB = '#0fc94f', C_A20 = '#eda64f';

timePlot('cTL', 73, 56, 396, 116, [].concat(
  traces(ikkkLowTraces, C_IKKK, [3, 3, 3, 1.5, 3, 2, 3, 3], false),
  traces(tnfrLowSteps.map(stepsToTrace), C_TNFR, [3, 2, 3, 1.5, 2, 2, 3.5, 3], false)
));

timePlot('cTR', 548, 56, 397, 116, [].concat(
  traces(ikkkHighValues.map(sampled), C_IKKK, [2, 3.5, 2, 3, 3.5, 2.5, 2, 3], false),
  traces(tnfrHighValues.map(sampled), C_TNFR, [3, 2.5, 3, 2.5, 3, 2.5, 3, 2.5], false)
));

timePlot('cBL', 73, 216, 396, 119, [].concat(
  traces(ikkLowTraces, C_IKK, [2.5, 2, 2, 2, 3], true),
  traces(nfkbLowTraces, C_NFKB, [3.5, 3, 2.5, 2.5, 3], true),
  traces(ikbaLowTraces, C_IKBA, [3.5, 3.5, 2.5, 2, 2, 1.8], true),
  traces(a20LowTraces, C_A20, [3, 2, 3.5, 3, 2, 2], true)
));

timePlot('cBR', 548, 216, 397, 119, [].concat(
  traces(ikkHighTraces, C_IKK, [2.5, 2.5, 2, 2, 2.5, 2], true),
  traces(nfkbHighTraces, C_NFKB, [4, 3.5, 2.5, 2, 2, 2], true),
  traces(ikbaHighTraces, C_IKBA, [3, 3, 3, 2, 1.8, 1.8], true),
  traces(a20HighTraces, C_A20, [3, 3, 3, 2.5, 2, 2], true)
));

// ---------------- panel b ----------------
function hexMarker(r, color) {
  const c = document.createElement('canvas');
  c.width = c.height = 2 * r + 2;
  const g = c.getContext('2d');
  g.fillStyle = color;
  g.beginPath();
  for (let k = 0; k < 6; k++) {
    const ang = -Math.PI / 2 + k * Math.PI / 3;
    g.lineTo(r + 1 + r * Math.cos(ang), r + 1 + r * Math.sin(ang));
  }
  g.closePath();
  g.fill();
  return c;
}

const ksSeries = [
  { values: ksTNFR, color: '#3f80f6', mark: 'hex', order: 3 },
  { values: ksIKKK, color: '#9a4cf5', mark: 'rect', order: 2 },
  { values: ksIKK, color: '#e070f0', mark: 'rectRot', order: 1 },
  { values: ksIkBa, color: '#ff2b2b', mark: 'triDown', order: 4 },
  { values: ksNFkB, color: '#1fbf4f', mark: 'circle', order: 5 },
  { values: ksA20, color: '#f58a3a', mark: 'tri', order: 6 }
];

function pointOpts(s) {
  switch (s.mark) {
    case 'hex': return { pointStyle: hexMarker(6.5, s.color), pointRadius: 7 };
    case 'rect': return { pointStyle: 'rect', pointRadius: 7.2 };
    case 'rectRot': return { pointStyle: 'rectRot', pointRadius: 7 };
    case 'circle': return { pointStyle: 'circle', pointRadius: 5.6 };
    case 'tri': return { pointStyle: 'triangle', pointRadius: 8 };
    default: return { pointStyle: 'triangle', pointRadius: 8, pointRotation: 180 };
  }
}

function drawMark(ctx, kind, x, y, color) {
  ctx.fillStyle = color;
  ctx.beginPath();
  if (kind === 'hex') {
    for (let k = 0; k < 6; k++) {
      const ang = -Math.PI / 2 + k * Math.PI / 3;
      ctx.lineTo(x + 6.5 * Math.cos(ang), y + 6.5 * Math.sin(ang));
    }
  } else if (kind === 'rect') {
    ctx.rect(x - 5, y - 5, 10, 10);
  } else if (kind === 'rectRot') {
    ctx.moveTo(x, y - 7); ctx.lineTo(x + 7, y); ctx.lineTo(x, y + 7); ctx.lineTo(x - 7, y);
  } else if (kind === 'circle') {
    ctx.arc(x, y, 5.6, 0, Math.PI * 2);
  } else if (kind === 'tri') {
    ctx.moveTo(x, y - 8); ctx.lineTo(x + 7, y + 4); ctx.lineTo(x - 7, y + 4);
  } else {
    ctx.moveTo(x, y + 8); ctx.lineTo(x + 7, y - 4); ctx.lineTo(x - 7, y - 4);
  }
  ctx.closePath();
  ctx.fill();
}

const ksDecor = {
  id: 'ksDecor',
  afterDraw(chart) {
    const ctx = chart.ctx, a = chart.chartArea, xs = chart.scales.x;
    ctx.save();
    // bracket marks under each comparison
    ctx.strokeStyle = NAVY;
    ctx.lineWidth = 1.5;
    for (let i = 0; i < ksTNFR.length; i++) {
      const x = xs.getPixelForValue(i), y = a.bottom + 4;
      ctx.beginPath();
      ctx.moveTo(x, y); ctx.lineTo(x, y + 7);
      ctx.moveTo(x - 6.5, y + 11); ctx.quadraticCurveTo(x - 1, y + 10, x, y + 6);
      ctx.moveTo(x + 6.5, y + 11); ctx.quadraticCurveTo(x + 1, y + 10, x, y + 6);
      ctx.stroke();
    }
    // dose labels between the brackets
    const slots = [-0.37, 0.5, 1.5, 2.5, 3.5, 4.5, 5.5, 6.45];
    ctx.fillStyle = NAVY;
    ctx.font = '16px ' + FONT;
    ctx.textAlign = 'center';
    ctx.textBaseline = 'middle';
    doseLabels.forEach((s, i) => ctx.fillText(s, xs.getPixelForValue(slots[i]), a.bottom + 15));
    const tenRight = xs.getPixelForValue(slots[7]) + ctx.measureText('10').width / 2;
    ctx.font = '14px ' + FONT;
    ctx.textAlign = 'left';
    ctx.fillText('ng/ml', tenRight + 5, a.bottom + 15);
    // legend swatches
    ctx.lineWidth = 2;
    ksSeries.forEach((s, i) => {
      const y = a.top + 24 + i * 33.4;
      ctx.strokeStyle = s.color;
      ctx.beginPath(); ctx.moveTo(a.right + 13, y); ctx.lineTo(a.right + 56, y); ctx.stroke();
      drawMark(ctx, s.mark, a.right + 35, y, s.color);
    });
    ctx.restore();
  }
};

(function () {
  const cv = document.getElementById('cKS');
  const pad = { l: 40, t: 8, r: 80, b: 50 };
  place(cv, 60, 433, 443, 216, pad);
  new Chart(cv, {
    type: 'line',
    data: {
      datasets: ksSeries.map(s => Object.assign({
        data: s.values.map((v, i) => ({ x: i, y: v })),
        borderColor: s.color, backgroundColor: s.color,
        borderWidth: 2, pointBorderWidth: 0, tension: 0, order: s.order
      }, pointOpts(s)))
    },
    options: {
      responsive: false, animation: false, events: [],
      layout: { padding: { left: 0, top: pad.t, right: pad.r, bottom: 0 } },
      plugins: { legend: { display: false }, tooltip: { enabled: false } },
      scales: {
        x: {
          type: 'linear', min: -0.57, max: 6.57,
          afterBuildTicks: s => { s.ticks = ksTNFR.map((v, i) => ({ value: i })); },
          afterFit: s => { s.height = pad.b; },
          grid: { color: '#a0a0a0', lineWidth: 1, drawTicks: false },
          border: { display: true, color: FRAME, width: 1.5, dash: [3, 3] },
          ticks: { display: false }
        },
        y: {
          min: 0, max: 1,
          afterBuildTicks: s => { s.ticks = [{ value: 0 }, { value: 1 }]; },
          afterFit: s => { s.width = pad.l; },
          grid: { display: false, drawTicks: false },
          border: { display: true, color: FRAME, width: 1.5 },
          ticks: { color: INK, font: { family: FONT, size: 17 }, padding: 6 }
        }
      }
    },
    plugins: [framePlugin, ksDecor]
  });
})();

// ---------------- panel c ----------------
const miColors = ['#2277ff', '#9944ff', '#dd66ee', '#ff3333', '#00c850', '#f5823a'];
const miLabelEls = miNames.map(([main, sub]) => {
  const d = document.createElement('div');
  d.className = 't lft leg';
  d.innerHTML = main + (sub ? '<sub>' + sub + '</sub>' : '');
  page.appendChild(d);
  return d;
});

(function () {
  const cv = document.getElementById('cMI');
  const pad = { l: 20, t: 8, r: 20, b: 32 };
  const fx = 671, fy = 433;
  place(cv, fx, fy, 377, 216, pad);
  const cDecor = {
    id: 'cDecor',
    afterDraw(chart) {
      const ctx = chart.ctx, a = chart.chartArea, xs = chart.scales.x;
      ctx.save();
      ctx.strokeStyle = FRAME;
      ctx.lineWidth = 1.5;
      ctx.beginPath();
      ctx.moveTo(a.right, a.top); ctx.lineTo(a.left, a.top); ctx.lineTo(a.left, a.bottom); ctx.lineTo(a.right, a.bottom);
      ctx.stroke();
      ctx.lineWidth = 1.2;
      for (let k = 1; k < 30; k++) {
        const x = xs.getPixelForValue(k / 10), len = k % 5 === 0 ? 7 : 4;
        ctx.beginPath();
        ctx.moveTo(x, a.top); ctx.lineTo(x, a.top + len);
        ctx.moveTo(x, a.bottom); ctx.lineTo(x, a.bottom - len);
        ctx.stroke();
      }
      ctx.restore();
      const left0 = fx - pad.l, top0 = fy - pad.t;
      chart.getDatasetMeta(0).data.forEach((bar, i) => {
        miLabelEls[i].style.left = (left0 + bar.x + 9) + 'px';
        miLabelEls[i].style.top = (top0 + bar.y + 1) + 'px';
      });
    }
  };
  new Chart(cv, {
    type: 'bar',
    data: {
      datasets: [{
        data: miValues.map((v, i) => ({ x: v, y: i })),
        backgroundColor: miColors, borderWidth: 0, barThickness: 19
      }]
    },
    options: {
      indexAxis: 'y',
      responsive: false, animation: false, events: [],
      layout: { padding: { left: 0, top: pad.t, right: pad.r, bottom: 0 } },
      plugins: { legend: { display: false }, tooltip: { enabled: false } },
      scales: {
        x: {
          type: 'linear', min: 0, max: 3,
          afterBuildTicks: s => { s.ticks = [0, 1, 2, 3].map(v => ({ value: v })); },
          afterFit: s => { s.height = pad.b; },
          grid: { drawTicks: false, lineWidth: 1, color: c => (c.tick && c.tick.value > 0 ? '#8a8a8a' : 'rgba(0,0,0,0)') },
          border: { display: true, color: FRAME, width: 1.5, dash: [4, 3] },
          ticks: { color: INK, font: { family: FONT, size: 17 }, padding: 5 }
        },
        y: {
          type: 'linear', min: -0.75, max: 5.72, reverse: true,
          afterFit: s => { s.width = pad.l; },
          grid: { display: false },
          border: { display: true, color: FRAME, width: 1.5 },
          ticks: { display: false }
        }
      }
    },
    plugins: [cDecor]
  });
})();
</script>
</body>
</html>
